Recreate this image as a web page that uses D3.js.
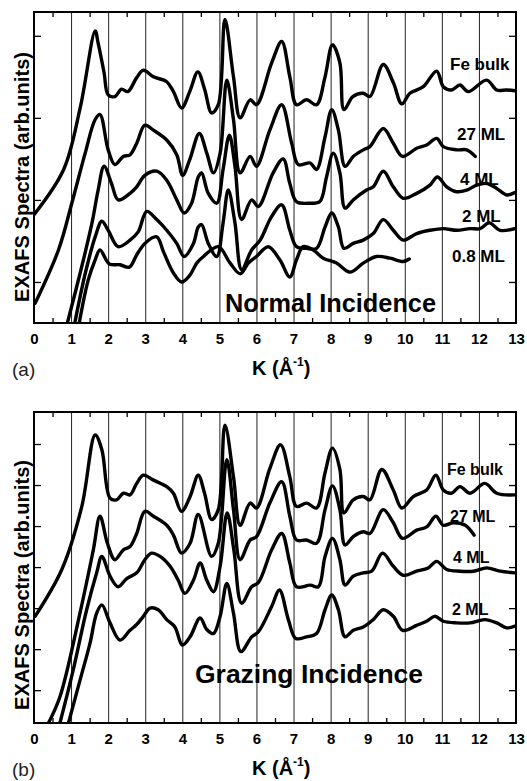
<!DOCTYPE html>
<html>
<head>
<meta charset="utf-8">
<script src="https://cdn.jsdelivr.net/npm/d3@7"></script>
<style>
  body { margin: 0; background: #fff; }
  svg { display: block; font-family: 'Liberation Sans', Arial, sans-serif; }
  .frame { fill: none; stroke: #000; stroke-width: 2; }
  .grid line { stroke: #222; stroke-width: 1; }
  .ticks line { stroke: #000; stroke-width: 1.3; }
  .curve { fill: none; stroke: #000; stroke-width: 3.4; stroke-linejoin: round; stroke-linecap: round; }
  .series-label { font-weight: bold; fill: #000; }
  .title { font-size: 25px; font-weight: bold; fill: #000; }
  .axis-title { font-size: 20px; font-weight: bold; fill: #000; }
  .panel-tag { font-size: 19px; fill: #222; }
</style>
</head>
<body>
<svg class="chart" width="527" height="781"></svg>
<script>
// k axis
const kTicks = d3.range(0, 14);
const kGrid = d3.range(1, 13);
const kMinor = d3.range(0.5, 13, 1);
const normalYTicks = [0.5, 1.5, 2.5, 3.5];
const grazingYTicks = [0.4, 0.9, 1.4, 1.9, 2.4, 2.9, 3.4];

// (a) normal incidence, [k, signal]
const normalFeBulk = [[0, 1.32], [0.8, 1.87], [1.25, 2.63], [1.65, 3.56], [1.73, 3.41], [1.89, 3.05], [2.0, 2.78], [2.18, 2.76], [2.36, 2.85], [2.53, 2.82], [2.77, 2.99], [2.95, 3.08], [3.22, 3.0], [3.58, 2.94], [3.76, 2.82], [3.98, 2.62], [4.2, 2.82], [4.42, 3.06], [4.6, 2.85], [4.79, 2.56], [4.97, 2.66], [5.15, 3.7], [5.38, 3.0], [5.56, 2.5], [5.83, 2.72], [6.0, 2.66], [6.41, 3.17], [6.68, 3.43], [6.9, 3.0], [7.08, 2.66], [7.35, 2.72], [7.62, 2.66], [7.85, 3.0], [8.05, 3.39], [8.25, 3.17], [8.36, 2.6], [8.6, 2.76], [8.88, 2.8], [9.06, 2.76], [9.42, 3.15], [9.69, 2.93], [9.92, 2.67], [10.14, 2.8], [10.5, 2.88], [10.86, 3.07], [11.04, 2.88], [11.26, 2.84], [11.49, 2.9], [11.71, 2.82], [12.21, 2.96], [12.48, 2.84], [12.75, 2.84], [12.97, 2.83]];
const normal27ML = [[0.03, 0.24], [0.66, 0.89], [1.02, 1.46], [1.38, 2.07], [1.65, 2.48], [1.78, 2.54], [2.0, 2.11], [2.18, 1.93], [2.41, 2.03], [2.59, 2.05], [2.77, 2.19], [2.99, 2.41], [3.22, 2.35], [3.58, 2.23], [3.85, 2.05], [4.01, 1.8], [4.2, 1.99], [4.46, 2.31], [4.66, 2.07], [4.84, 1.83], [5.02, 2.07], [5.2, 2.96], [5.38, 2.48], [5.56, 1.83], [5.83, 2.03], [6.0, 1.91], [6.36, 2.35], [6.68, 2.66], [6.95, 2.19], [7.13, 1.93], [7.45, 1.95], [7.62, 1.87], [7.85, 2.27], [8.03, 2.6], [8.21, 2.35], [8.39, 1.91], [8.61, 2.03], [8.88, 2.11], [9.06, 2.15], [9.42, 2.37], [9.69, 2.19], [9.94, 2.03], [10.32, 2.13], [10.59, 2.17], [10.86, 2.25], [11.04, 2.15], [11.4, 2.11], [11.67, 2.11], [11.9, 2.03]];
const normal4ML = [[0.9, 0], [1.24, 0.6], [1.56, 1.21], [1.73, 1.62], [1.89, 1.91], [2.09, 1.7], [2.27, 1.5], [2.59, 1.58], [2.77, 1.66], [2.99, 1.8], [3.31, 1.85], [3.58, 1.74], [3.85, 1.5], [4.05, 1.34], [4.25, 1.46], [4.43, 1.78], [4.52, 1.83], [4.7, 1.58], [4.93, 1.46], [5.1, 1.87], [5.27, 2.29], [5.42, 1.91], [5.6, 1.26], [5.87, 1.5], [6.05, 1.42], [6.45, 1.83], [6.72, 2.0], [6.9, 1.7], [7.08, 1.48], [7.45, 1.46], [7.71, 1.48], [7.89, 1.78], [8.07, 2.07], [8.25, 1.83], [8.39, 1.4], [8.61, 1.5], [8.97, 1.62], [9.15, 1.66], [9.42, 1.85], [9.69, 1.66], [9.96, 1.52], [10.32, 1.58], [10.68, 1.68], [10.88, 1.78], [11.13, 1.66], [11.4, 1.6], [11.67, 1.62], [11.94, 1.68], [12.21, 1.7], [12.48, 1.64], [12.75, 1.56], [12.97, 1.59]];
const normal2ML = [[1.1, 0], [1.38, 0.6], [1.65, 1.05], [1.83, 1.24], [2.0, 1.13], [2.27, 0.93], [2.59, 1.01], [2.81, 1.11], [3.04, 1.36], [3.31, 1.26], [3.58, 1.13], [3.85, 0.97], [4.05, 0.81], [4.3, 0.97], [4.43, 1.17], [4.52, 1.2], [4.7, 0.97], [4.93, 0.81], [5.1, 1.22], [5.24, 1.62], [5.42, 1.22], [5.6, 0.65], [5.87, 0.89], [6.1, 1.01], [6.41, 1.3], [6.68, 1.44], [6.9, 1.13], [7.08, 0.93], [7.35, 0.91], [7.62, 0.91], [7.85, 1.17], [8.03, 1.34], [8.21, 1.17], [8.36, 0.91], [8.61, 0.97], [8.88, 1.01], [9.15, 1.09], [9.42, 1.26], [9.69, 1.13], [9.96, 1.01], [10.32, 1.09], [10.68, 1.13], [11.04, 1.15], [11.4, 1.13], [11.76, 1.15], [12.03, 1.15], [12.28, 1.22], [12.57, 1.13], [12.97, 1.15]];
const normal08ML = [[1.22, 0], [1.46, 0.52], [1.65, 0.77], [1.78, 0.89], [2.03, 0.72], [2.32, 0.71], [2.57, 0.68], [2.77, 0.83], [2.99, 0.97], [3.31, 1.05], [3.49, 0.87], [3.76, 0.61], [3.98, 0.5], [4.2, 0.58], [4.39, 0.73], [4.57, 0.81], [4.97, 0.93], [5.29, 0.73], [5.56, 0.6], [5.78, 0.73], [6.0, 0.81], [6.32, 0.93], [6.63, 0.77], [6.9, 0.56], [7.08, 0.77], [7.26, 0.93], [7.53, 0.89], [7.8, 0.79], [8.16, 0.73], [8.52, 0.62], [8.88, 0.73], [9.24, 0.81], [9.6, 0.79], [9.96, 0.75], [10.12, 0.78]];

// (b) grazing incidence, [k, signal]
const grazingFeBulk = [[0.03, 1.3], [0.75, 1.87], [1.29, 2.64], [1.65, 3.51], [1.83, 3.33], [2.05, 2.74], [2.23, 2.72], [2.41, 2.8], [2.59, 2.78], [2.77, 2.92], [2.95, 3.02], [3.22, 2.96], [3.58, 2.88], [3.76, 2.8], [3.98, 2.58], [4.21, 2.76], [4.43, 3.02], [4.6, 2.8], [4.79, 2.48], [4.97, 2.6], [5.15, 3.63], [5.38, 3.0], [5.56, 2.41], [5.83, 2.68], [6.0, 2.62], [6.36, 3.1], [6.65, 3.39], [6.9, 3.0], [7.08, 2.64], [7.35, 2.68], [7.62, 2.62], [7.85, 3.05], [8.05, 3.35], [8.25, 3.09], [8.36, 2.56], [8.61, 2.72], [8.88, 2.76], [9.06, 2.72], [9.38, 3.09], [9.69, 2.84], [9.92, 2.62], [10.23, 2.76], [10.59, 2.84], [10.84, 3.02], [11.04, 2.84], [11.26, 2.8], [11.49, 2.88], [11.76, 2.8], [12.16, 2.92], [12.48, 2.8], [12.97, 2.78]];
const grazing27ML = [[0.39, 0], [0.7, 0.32], [1.24, 1.34], [1.6, 2.11], [1.78, 2.52], [1.98, 2.19], [2.18, 1.99], [2.41, 2.11], [2.59, 2.15], [2.77, 2.31], [2.99, 2.58], [3.22, 2.52], [3.58, 2.41], [3.76, 2.29], [3.98, 2.07], [4.21, 2.19], [4.43, 2.54], [4.79, 2.03], [4.97, 2.19], [5.2, 3.21], [5.38, 2.6], [5.56, 1.99], [5.83, 2.23], [6.0, 2.27], [6.36, 2.68], [6.68, 2.94], [6.9, 2.52], [7.08, 2.23], [7.35, 2.23], [7.62, 2.19], [7.85, 2.6], [8.05, 2.89], [8.25, 2.6], [8.39, 2.17], [8.61, 2.27], [8.88, 2.33], [9.06, 2.31], [9.42, 2.6], [9.69, 2.44], [9.94, 2.25], [10.32, 2.35], [10.59, 2.39], [10.84, 2.52], [11.04, 2.41], [11.31, 2.44], [11.63, 2.41], [11.87, 2.29]];
const grazing4ML = [[0.7, 0], [1.06, 0.65], [1.42, 1.38], [1.69, 1.83], [1.83, 2.03], [2.05, 1.79], [2.27, 1.66], [2.5, 1.76], [2.77, 1.83], [2.99, 1.99], [3.17, 2.07], [3.4, 2.03], [3.67, 1.91], [3.89, 1.74], [4.07, 1.58], [4.3, 1.74], [4.48, 1.95], [4.66, 1.74], [4.84, 1.6], [5.02, 1.91], [5.21, 2.56], [5.39, 2.11], [5.6, 1.46], [5.87, 1.66], [6.05, 1.71], [6.41, 2.11], [6.68, 2.31], [6.9, 1.95], [7.08, 1.66], [7.45, 1.68], [7.67, 1.66], [7.85, 2.03], [8.05, 2.25], [8.25, 1.99], [8.39, 1.68], [8.61, 1.79], [8.88, 1.83], [9.11, 1.85], [9.4, 2.07], [9.69, 1.91], [9.96, 1.8], [10.32, 1.85], [10.63, 1.89], [10.86, 1.97], [11.13, 1.87], [11.49, 1.85], [11.85, 1.85], [12.21, 1.89], [12.57, 1.85], [12.97, 1.83]];
const grazing2ML = [[0.93, 0], [1.24, 0.52], [1.51, 0.97], [1.69, 1.34], [1.83, 1.44], [2.05, 1.22], [2.32, 1.01], [2.59, 1.13], [2.77, 1.2], [2.95, 1.3], [3.13, 1.4], [3.35, 1.38], [3.58, 1.26], [3.8, 1.17], [4.0, 0.95], [4.21, 1.05], [4.48, 1.28], [4.66, 1.14], [4.84, 1.09], [5.02, 1.3], [5.2, 1.7], [5.38, 1.34], [5.58, 0.87], [5.87, 1.05], [6.05, 1.11], [6.41, 1.42], [6.62, 1.62], [6.86, 1.26], [7.06, 1.03], [7.35, 1.05], [7.62, 1.09], [7.85, 1.38], [8.03, 1.56], [8.21, 1.38], [8.39, 1.05], [8.61, 1.13], [8.88, 1.17], [9.15, 1.26], [9.42, 1.38], [9.69, 1.3], [9.94, 1.13], [10.32, 1.19], [10.59, 1.24], [10.81, 1.3], [11.04, 1.24], [11.4, 1.22], [11.76, 1.22], [12.16, 1.26], [12.48, 1.22], [12.75, 1.16], [12.97, 1.18]];

const normalNames = ['Fe bulk', '27 ML', '4 ML', '2 ML', '0.8 ML'];
const grazingNames = ['Fe bulk', '27 ML', '4 ML', '2 ML'];

const svg = d3.select('.chart');
const xScale = d3.scaleLinear().domain([0, 13]).range([34, 516]);

const dropDomain = sel => sel.select('.domain').remove();

const drawPanel = (panel) => {
  const { id, top, bottom, yTicks, series, names, labelPos, labelSize, title, titlePos, tag, yLabelStart } = panel;
  const yScale = d3.scaleLinear().domain([0, 3.79]).range([bottom, top]);
  const g = svg.append('g');

  g.append('clipPath').attr('id', `clip-${id}`)
    .append('rect')
    .attr('x', 34).attr('y', top).attr('width', 482).attr('height', bottom - top);

  // vertical grid at integer k
  g.append('g').classed('grid', true)
    .attr('transform', `translate(0, ${bottom})`)
    .call(d3.axisBottom(xScale).tickValues(kGrid).tickSize(-(bottom - top)).tickFormat(''))
    .call(dropDomain);

  // minor ticks, bottom and top
  g.append('g').classed('ticks', true)
    .attr('transform', `translate(0, ${bottom})`)
    .call(d3.axisBottom(xScale).tickValues(kMinor).tickSize(-5).tickFormat(''))
    .call(dropDomain);
  g.append('g').classed('ticks', true)
    .attr('transform', `translate(0, ${top})`)
    .call(d3.axisTop(xScale).tickValues(kMinor).tickSize(-5).tickFormat(''))
    .call(dropDomain);

  // y ticks, both sides, no labels
  g.append('g').classed('ticks', true)
    .attr('transform', 'translate(34, 0)')
    .call(d3.axisLeft(yScale).tickValues(yTicks).tickSize(-7).tickFormat(''))
    .call(dropDomain);
  g.append('g').classed('ticks', true)
    .attr('transform', 'translate(516, 0)')
    .call(d3.axisRight(yScale).tickValues(yTicks).tickSize(-7).tickFormat(''))
    .call(dropDomain);

  // k tick labels
  g.append('g')
    .attr('transform', `translate(0, ${bottom})`)
    .call(d3.axisBottom(xScale).tickValues(kTicks).tickSize(0).tickPadding(10).tickFormat(d3.format('d')))
    .call(dropDomain)
    .attr('font-size', 15)
    .attr('font-family', "'Liberation Sans', Arial, sans-serif")
    .attr('font-weight', 'bold');

  const line = d3.line()
    .x(([k]) => xScale(k))
    .y(([, v]) => yScale(v))
    .curve(d3.curveCatmullRom.alpha(0.5));

  g.append('g').attr('clip-path', `url(#clip-${id})`)
    .selectAll('path')
    .data(series)
    .enter()
    .append('path')
    .classed('curve', true)
    .attr('d', line);

  g.append('rect').classed('frame', true)
    .attr('x', 34).attr('y', top).attr('width', 482).attr('height', bottom - top);

  names.forEach((name, i) => {
    g.append('text').classed('series-label', true)
      .attr('x', labelPos[i][0]).attr('y', labelPos[i][1])
      .attr('font-size', labelSize)
      .text(name);
  });

  g.append('text').classed('title', true)
    .attr('x', titlePos[0]).attr('y', titlePos[1])
    .attr('textLength', titlePos[2]).attr('lengthAdjust', 'spacingAndGlyphs')
    .text(title);

  g.append('text').classed('axis-title', true)
    .attr('transform', `translate(29, ${yLabelStart}) rotate(-90)`)
    .attr('textLength', 250).attr('lengthAdjust', 'spacingAndGlyphs')
    .text('EXAFS Spectra (arb.units)');

  const kTitle = g.append('text').classed('axis-title', true)
    .attr('x', 252).attr('y', bottom + 52);
  kTitle.append('tspan').text('K (Å');
  kTitle.append('tspan').attr('font-size', 12).attr('dy', -9).text('-1');
  kTitle.append('tspan').attr('dy', 9).text(')');

  g.append('text').classed('panel-tag', true)
    .attr('x', 12).attr('y', bottom + 53)
    .text(tag);
};

drawPanel({
  id: 'a', top: 12, bottom: 323, yTicks: normalYTicks,
  series: [normalFeBulk, normal27ML, normal4ML, normal2ML, normal08ML],
  names: normalNames,
  labelPos: [[450, 70], [457, 140], [460, 185], [462, 222], [452, 262]],
  labelSize: 17,
  title: 'Normal Incidence', titlePos: [225, 312, 211],
  tag: '(a)', yLabelStart: 302,
});

drawPanel({
  id: 'b', top: 412, bottom: 723, yTicks: grazingYTicks,
  series: [grazingFeBulk, grazing27ML, grazing4ML, grazing2ML],
  names: grazingNames,
  labelPos: [[447, 475], [450, 522], [453, 563], [452, 615]],
  labelSize: 16,
  title: 'Grazing Incidence', titlePos: [195, 683, 228],
  tag: '(b)', yLabelStart: 710,
});
</script>
</body>
</html>
